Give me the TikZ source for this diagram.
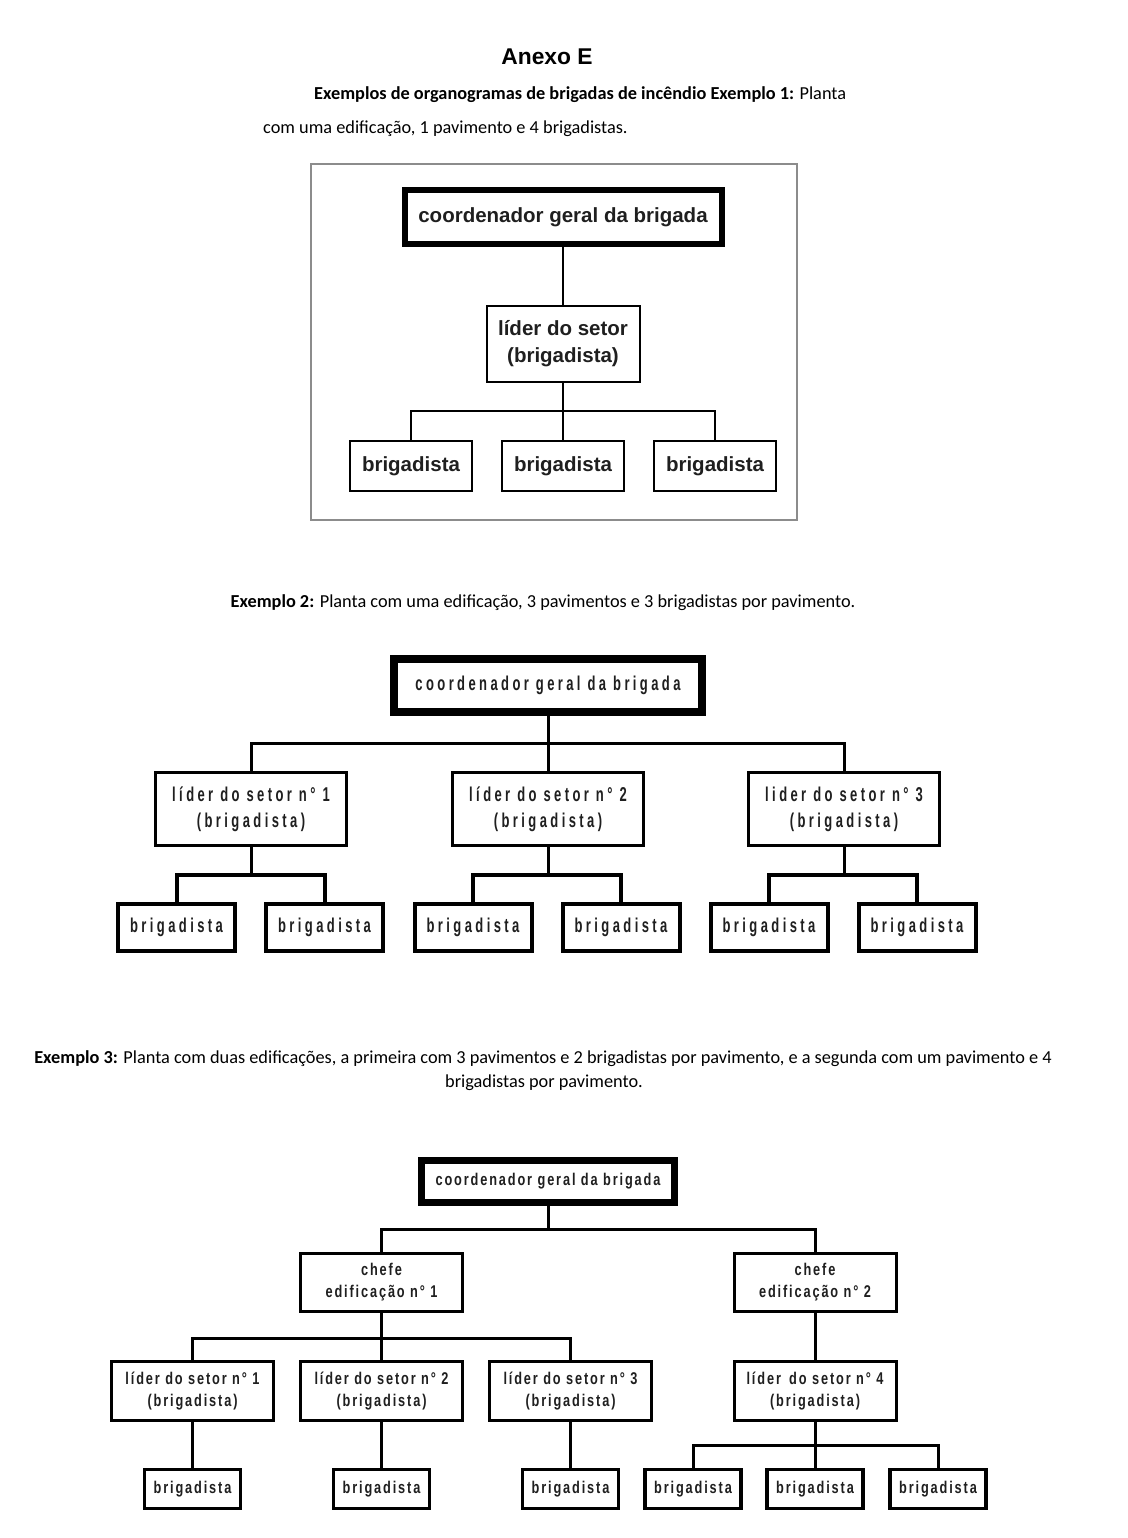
\documentclass[tikz,border=0pt]{standalone}
\usepackage{fontspec}
\setmainfont{Carlito}
\newfontfamily\arialfont{Liberation Sans}
\newfontfamily\narrowfont[FakeStretch=0.65,LetterSpace=17]{Liberation Sans}
\newfontfamily\condfont[FakeStretch=0.75,LetterSpace=11]{Liberation Sans}
\usetikzlibrary{positioning}
\definecolor{framegray}{gray}{0.55}
\definecolor{inkgray}{gray}{0.12}

\begin{document}
\begin{tikzpicture}[
  x=1pt, y=-1pt,
  box/.style={draw, rectangle, inner sep=0pt, align=center, text=inkgray},
  % Exemplo 1
  frameA/.style={draw=framegray, line width=1.5pt, minimum width=486pt, minimum height=356pt, inner sep=0pt},
  fontA/.style={font=\arialfont\bfseries\fontsize{20.5}{27}\selectfont},
  headA/.style={box, fontA, line width=6pt, minimum width=317pt, minimum height=54pt},
  liderA/.style={box, fontA, line width=2pt, minimum width=153pt, minimum height=76pt},
  brigA/.style={box, fontA, line width=2pt, minimum width=122pt, minimum height=50pt},
  linkA/.style={line width=2pt},
  % Exemplo 2
  fontB/.style={font=\narrowfont\bfseries\fontsize{20}{26}\selectfont},
  headB/.style={box, fontB, line width=8pt, minimum width=308pt, minimum height=53pt},
  liderB/.style={box, fontB, line width=3.5pt, minimum width=191pt, minimum height=73pt},
  brigB/.style={box, fontB, line width=4pt, minimum width=117pt, minimum height=47pt},
  linkB/.style={line width=3pt},
  subbusB/.style={line width=4pt},
  % Exemplo 3
  fontC/.style={font=\condfont\bfseries\fontsize{17}{22}\selectfont},
  headC/.style={box, fontC, line width=7pt, minimum width=253pt, minimum height=42pt},
  chefeC/.style={box, fontC, line width=3pt, minimum width=162pt, minimum height=58pt},
  liderC/.style={box, fontC, line width=3pt, minimum width=162pt, minimum height=59pt},
  brigC/.style={box, fontC, line width=3.5pt, minimum width=96pt, minimum height=39pt},
  linkC/.style={line width=3pt},
  caption/.style={inner sep=0pt, font=\fontsize{18.3}{24}\selectfont, text=black}
]
  \useasboundingbox (0,0) rectangle (1127,1538);

  % Titulo
  \node[font=\arialfont\bfseries\fontsize{22.8}{26}\selectfont] (titulo) at (547,57) {Anexo E};
  \node[caption, anchor=west] (legA1) at (314,95)
    {\textbf{Exemplos de organogramas de brigadas de incêndio Exemplo 1:} Planta};
  \node[caption, anchor=west] (legA2) at (263,129)
    {com uma edificação, 1 pavimento e 4 brigadistas.};

  % Exemplo 1
  \node[frameA] (quadroA) at (554,342) {};
  \node[headA] (coordA) at (563,217) {coordenador geral da brigada};
  \node[liderA] (liderA) at (563,344) {líder do setor\\(brigadista)};
  \node[brigA] (brigA1) at (411,466) {brigadista};
  \node[brigA] (brigA2) at (563,466) {brigadista};
  \node[brigA] (brigA3) at (715,466) {brigadista};
  \coordinate (busA) at (563,411);

  \draw[linkA] (coordA) -- (liderA);
  \draw[linkA] (liderA) -- (busA);
  \draw[linkA] (busA) -| (brigA1);
  \draw[linkA] (busA) -- (brigA2);
  \draw[linkA] (busA) -| (brigA3);

  % Exemplo 2
  \node[caption] (legB) at (543,603)
    {\textbf{Exemplo 2:} Planta com uma edificação, 3 pavimentos e 3 brigadistas por pavimento.};

  \node[headB] (coordB) at (548,685.5) {coordenador geral da brigada};
  \coordinate (busB) at (548,743);
  \node[liderB] (liderB1) at (251,809) {líder do setor n° 1\\(brigadista)};
  \node[liderB] (liderB2) at (548,809) {líder do setor n° 2\\(brigadista)};
  \node[liderB] (liderB3) at (844,809) {lider do setor n° 3\\(brigadista)};

  \foreach \j/\x in {1/176.5, 2/324.5, 3/473, 4/621, 5/769, 6/917}
    \node[brigB] (brigB\j) at (\x,927.5) {brigadista};

  \draw[linkB] (coordB) -- (busB);
  \draw[linkB] (busB) -| (liderB1);
  \draw[linkB] (busB) -- (liderB2);
  \draw[linkB] (busB) -| (liderB3);

  \foreach \i/\x/\a/\b in {1/251/1/2, 2/548/3/4, 3/844/5/6} {
    \coordinate (subB\i) at (\x,875);
    \draw[linkB] (liderB\i) -- (subB\i);
    \draw[subbusB] (subB\i) -| (brigB\a);
    \draw[subbusB] (subB\i) -| (brigB\b);
  }

  % Exemplo 3
  \node[caption] (legC1) at (543,1059)
    {\textbf{Exemplo 3:} Planta com duas edificações, a primeira com 3 pavimentos e 2 brigadistas por pavimento, e a segunda com um pavimento e 4};
  \node[caption] (legC2) at (544,1083) {brigadistas por pavimento.};

  \node[headC] (coordC) at (548,1181.5) {coordenador geral da brigada};
  \coordinate (busC) at (548,1229);
  \node[chefeC] (chefeC1) at (381.5,1282.5) {chefe\\edificação n° 1};
  \node[chefeC] (chefeC2) at (815,1282.5) {chefe\\edificação n° 2};

  \node[liderC] (liderC1) at (192.5,1391) {líder do setor n° 1\\(brigadista)};
  \node[liderC] (liderC2) at (381.5,1391) {líder do setor n° 2\\(brigadista)};
  \node[liderC] (liderC3) at (570.5,1391) {líder do setor n° 3\\(brigadista)};
  \node[liderC] (liderC4) at (815,1391) {líder\, do setor n° 4\\(brigadista)};

  \foreach \j/\x in {1/192.5, 2/381.5, 3/570.5, 4/693, 5/815, 6/938}
    \node[brigC] (brigC\j) at (\x,1489) {brigadista};

  \coordinate (busC1) at (381.5,1338);
  \coordinate (busC4) at (815,1445);

  \draw[linkC] (coordC) -- (busC);
  \draw[linkC] (busC) -| (chefeC1);
  \draw[linkC] (busC) -| (chefeC2);

  \draw[linkC] (chefeC1) -- (busC1);
  \draw[linkC] (busC1) -| (liderC1);
  \draw[linkC] (busC1) -- (liderC2);
  \draw[linkC] (busC1) -| (liderC3);
  \draw[linkC] (chefeC2) -- (liderC4);

  \draw[linkC] (liderC1) -- (brigC1);
  \draw[linkC] (liderC2) -- (brigC2);
  \draw[linkC] (liderC3) -- (brigC3);
  \draw[linkC] (liderC4) -- (busC4);
  \draw[linkC] (busC4) -| (brigC4);
  \draw[linkC] (busC4) -- (brigC5);
  \draw[linkC] (busC4) -| (brigC6);
\end{tikzpicture}
\end{document}
